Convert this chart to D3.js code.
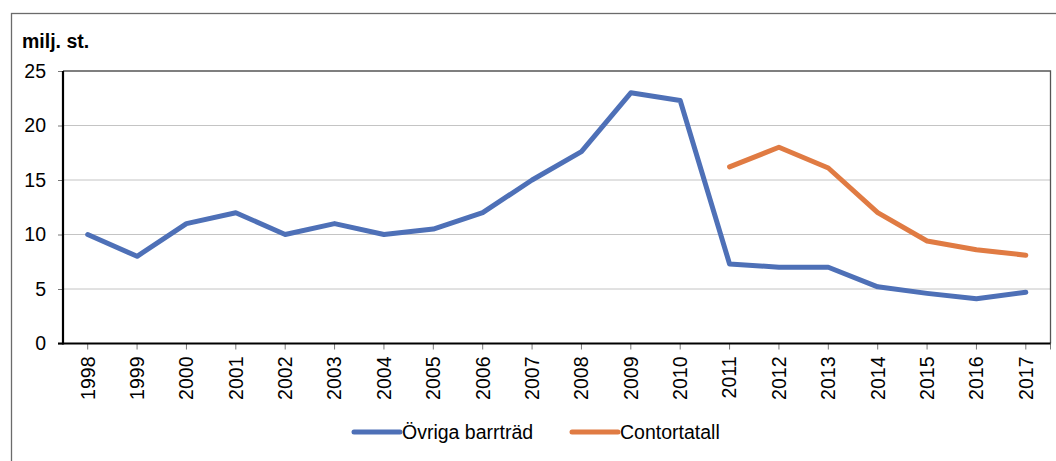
<!DOCTYPE html>
<html>
<head>
<meta charset="utf-8">
<script src="https://cdn.jsdelivr.net/npm/d3@7"></script>
<style>
  body { margin: 0; background: #fff; }
  svg { display: block; font-family: "Liberation Sans", Arial, sans-serif; }
</style>
</head>
<body>
<svg width="1056" height="461"></svg>
<script>
const years = ["1998", "1999", "2000", "2001", "2002", "2003", "2004", "2005", "2006", "2007",
               "2008", "2009", "2010", "2011", "2012", "2013", "2014", "2015", "2016", "2017"];
const ovriga = [10, 8, 11, 12, 10, 11, 10, 10.5, 12, 15, 17.6, 23, 22.3, 7.3, 7, 7, 5.2, 4.6, 4.1, 4.7];
const contorta = [null, null, null, null, null, null, null, null, null, null,
                  null, null, null, 16.2, 18, 16.1, 12, 9.4, 8.6, 8.1];
const yTicks = [0, 5, 10, 15, 20, 25];

const svg = d3.select("svg");
const plotLeft = 63, plotRight = 1050.5, plotTop = 71, plotBottom = 343.5;
const fs = 19.5;

// outer frame (runs off the right and bottom edge)
svg.append("rect")
    .attr("x", 11.5).attr("y", 13.5)
    .attr("width", 1060).attr("height", 470)
    .attr("fill", "none").attr("stroke", "#6b6b6b").attr("stroke-width", 1.3);

svg.append("text")
    .attr("x", 22).attr("y", 48)
    .attr("font-size", fs).attr("font-weight", "bold")
    .text("milj. st.");

const x = d3.scaleBand().domain(years).range([plotLeft, plotRight]);
const y = d3.scaleLinear().domain([0, 25]).range([plotBottom, plotTop]);
const cx = d => x(d) + x.bandwidth() / 2;

// gridlines
svg.append("g").selectAll("line")
    .data(yTicks.filter(t => t > 0 && t < 25))
    .join("line")
    .attr("x1", plotLeft).attr("x2", plotRight)
    .attr("y1", d => y(d)).attr("y2", d => y(d))
    .attr("stroke", "#c4c4c4").attr("stroke-width", 1);

// plot border (top and right)
svg.append("path")
    .attr("d", `M${plotLeft},${y(25)}H${plotRight}V${plotBottom}`)
    .attr("fill", "none").attr("stroke", "#555").attr("stroke-width", 1.3);

// y axis
const yAxis = svg.append("g")
    .attr("transform", `translate(${plotLeft},0)`)
    .call(d3.axisLeft(y).tickValues(yTicks).tickSize(5).tickPadding(12).tickFormat(d3.format("d")));
yAxis.select(".domain").remove();
yAxis.selectAll(".tick line").attr("stroke", "#777");
yAxis.selectAll(".tick text").attr("font-size", fs).attr("fill", "#000")
    .attr("font-family", "Liberation Sans, Arial, sans-serif");
svg.append("line")
    .attr("x1", plotLeft).attr("x2", plotLeft).attr("y1", plotTop).attr("y2", plotBottom + 1)
    .attr("stroke", "#000").attr("stroke-width", 2.2);

// x axis
const xAxis = svg.append("g")
    .attr("transform", `translate(0,${plotBottom})`)
    .call(d3.axisBottom(x).tickSize(6).tickSizeOuter(0));
xAxis.select(".domain").remove();
xAxis.selectAll(".tick line").attr("stroke", "#777");
xAxis.selectAll(".tick text")
    .attr("font-size", fs).attr("fill", "#000")
    .attr("font-family", "Liberation Sans, Arial, sans-serif")
    .attr("transform", "rotate(-90)")
    .attr("text-anchor", "end")
    .attr("x", -13).attr("y", 0).attr("dy", "0.35em");
svg.append("line")
    .attr("x1", plotRight).attr("x2", plotRight).attr("y1", plotBottom).attr("y2", plotBottom + 6)
    .attr("stroke", "#777");
svg.append("line")
    .attr("x1", plotLeft - 5).attr("x2", plotRight).attr("y1", plotBottom).attr("y2", plotBottom)
    .attr("stroke", "#000").attr("stroke-width", 2.2);

// series
const line = d3.line()
    .defined(d => d.v != null)
    .x(d => cx(d.year))
    .y(d => y(d.v));

const series = [
    { name: "Övriga barrträd", color: "#4E70B7", values: ovriga },
    { name: "Contortatall", color: "#E07B43", values: contorta }
];

series.forEach(s => {
    svg.append("path")
        .datum(years.map((yr, i) => ({ year: yr, v: s.values[i] })))
        .attr("d", line)
        .attr("fill", "none")
        .attr("stroke", s.color)
        .attr("stroke-width", 5)
        .attr("stroke-linejoin", "round")
        .attr("stroke-linecap", "round");
});

// legend
const legendX = [354, 572];
series.forEach((s, i) => {
    const g = svg.append("g").attr("transform", `translate(${legendX[i]},432)`);
    g.append("line")
        .attr("x1", 0).attr("x2", 46)
        .attr("stroke", s.color).attr("stroke-width", 5).attr("stroke-linecap", "round");
    g.append("text")
        .attr("x", 48).attr("y", 7)
        .attr("font-size", fs)
        .text(s.name);
});
</script>
</body>
</html>
